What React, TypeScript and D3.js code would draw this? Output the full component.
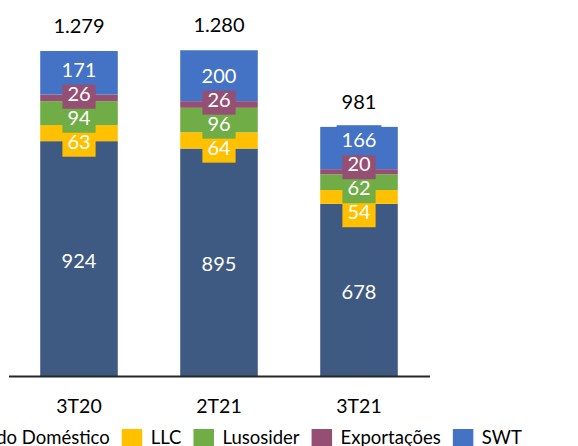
import React, { useRef, useEffect } from "react";
import * as d3 from "d3";

const categories = ["3T20", "2T21", "3T21"];
const seriesNames = ["Mercado Doméstico", "LLC", "Lusosider", "Exportações", "SWT"];
const seriesColors = ["#3F5A82", "#FFC000", "#70AD47", "#954F72", "#4472C4"];
const domestico = [924, 895, 678];
const llc = [63, 64, 54];
const lusosider = [94, 96, 62];
const exportacoes = [26, 26, 20];
const swt = [171, 200, 166];
const totals = ["1.279", "1.280", "981"];

const W = 578;
const H = 446;
const FONT = "Lato, 'Open Sans', sans-serif";

// spread overlapping labels (Excel-like nudging), y grows downward
const spreadLabels = (centers: number[], gap: number) => {
  let clusters = centers.map((c, i) => ({ idx: [i], mean: c }));
  let changed = true;
  const pos = (cl: any) =>
    cl.idx.map((_: number, k: number) => cl.mean + ((cl.idx.length - 1) / 2 - k) * gap);
  while (changed) {
    changed = false;
    for (let i = 0; i < clusters.length - 1; i++) {
      const a = clusters[i];
      const b = clusters[i + 1];
      const aTop = pos(a)[a.idx.length - 1];
      const bBottom = pos(b)[0];
      if (aTop - bBottom < gap) {
        const idx = [...a.idx, ...b.idx];
        const mean = d3.mean(idx, (j) => centers[j]) as number;
        clusters.splice(i, 2, { idx, mean });
        changed = true;
        break;
      }
    }
  }
  const out: number[] = [];
  clusters.forEach((cl) => pos(cl).forEach((p: number, k: number) => (out[cl.idx[k]] = p)));
  return out;
};

export default function App() {
  const svgRef = useRef<SVGSVGElement>(null);

  useEffect(() => {
    if (!svgRef.current) return;
    const svg = d3.select(svgRef.current);
    svg.selectAll("*").remove();

    const series = [domestico, llc, lusosider, exportacoes, swt];
    const rows = categories.map((c, i) => {
      const r: any = { cat: c };
      seriesNames.forEach((s, k) => (r[s] = series[k][i]));
      return r;
    });
    const stacked = d3.stack<any>().keys(seriesNames)(rows);

    const x = d3
      .scaleBand()
      .domain(categories)
      .range([9, 429])
      .paddingInner(0.446)
      .paddingOuter(0.223);
    const y = d3.scaleLinear().domain([0, 1300]).range([376.5, 45.4]);

    // bars
    stacked.forEach((layer, k) => {
      svg
        .append("g")
        .selectAll("rect")
        .data(layer)
        .enter()
        .append("rect")
        .attr("x", (d: any) => x(d.data.cat)!)
        .attr("width", x.bandwidth())
        .attr("y", (d) => y(d[1]))
        .attr("height", (d) => y(d[0]) - y(d[1]))
        .attr("fill", seriesColors[k]);
    });

    // axis line
    svg
      .append("line")
      .attr("x1", 9)
      .attr("x2", 430)
      .attr("y1", 376.5)
      .attr("y2", 376.5)
      .attr("stroke", "#262626")
      .attr("stroke-width", 1.8);

    // label positions per category
    const labelY: number[][] = seriesNames.map(() => []);
    categories.forEach((_, i) => {
      const centers = stacked.map((layer) => (y(layer[i][0]) + y(layer[i][1])) / 2 + 1.5);
      const spread = [centers[0], ...spreadLabels(centers.slice(1), 24)];
      spread.forEach((p, k) => (labelY[k][i] = p));
    });

    stacked.forEach((layer, k) => {
      const g = svg.append("g");
      layer.forEach((d: any, i) => {
        const cx = x(d.data.cat)! + x.bandwidth() / 2;
        const cy = labelY[k][i];
        const txt = String(series[k][i]);
        const bw = txt.length * 11.6 + 10;
        if (k > 0) {
          g.append("rect")
            .attr("x", cx - bw / 2)
            .attr("y", cy - 15)
            .attr("width", bw)
            .attr("height", 30)
            .attr("fill", seriesColors[k]);
        }
        g.append("text")
          .attr("x", cx)
          .attr("y", cy + 7.2)
          .attr("text-anchor", "middle")
          .attr("fill", "#fff")
          .attr("font-family", FONT)
          .attr("font-size", 20)
          .text(txt);
      });
    });

    // totals
    svg
      .append("g")
      .selectAll("text")
      .data(categories)
      .enter()
      .append("text")
      .attr("x", (c) => x(c)! + x.bandwidth() / 2)
      .attr("y", (c, i) => y(stacked[stacked.length - 1][i][1]) - 18)
      .attr("text-anchor", "middle")
      .attr("fill", "#000")
      .attr("font-family", FONT)
      .attr("font-size", 20)
      .text((c, i) => totals[i]);

    // category labels
    svg
      .append("g")
      .selectAll("text")
      .data(categories)
      .enter()
      .append("text")
      .attr("x", (c) => x(c)! + x.bandwidth() / 2)
      .attr("y", 412.7)
      .attr("text-anchor", "middle")
      .attr("fill", "#000")
      .attr("font-family", FONT)
      .attr("font-size", 19.5)
      .text((c) => c);

    // legend, centred on the plot
    const lg = svg.append("g");
    const items = seriesNames.map((name, k) => {
      const t = lg
        .append("text")
        .attr("y", 444)
        .attr("fill", "#000")
        .attr("font-family", FONT)
        .attr("font-size", 18.5)
        .text(name);
      const w = (t.node() as SVGTextElement).getComputedTextLength();
      return { t, w, k };
    });
    const total = d3.sum(items, (d) => 20 + 9 + d.w) + 12 * (items.length - 1);
    let cursor = 219 - total / 2;
    items.forEach((it) => {
      lg.append("rect")
        .attr("x", cursor)
        .attr("y", 429)
        .attr("width", 20.5)
        .attr("height", 19)
        .attr("fill", seriesColors[it.k]);
      it.t.attr("x", cursor + 29);
      cursor += 29 + it.w + 12;
    });
  }, []);

  return (
    <div style={{ position: "absolute", left: 0, top: 0, width: W, height: H, overflow: "hidden" }}>
      <svg ref={svgRef} width={W} height={H} style={{ display: "block", background: "#fff" }} />
    </div>
  );
}
